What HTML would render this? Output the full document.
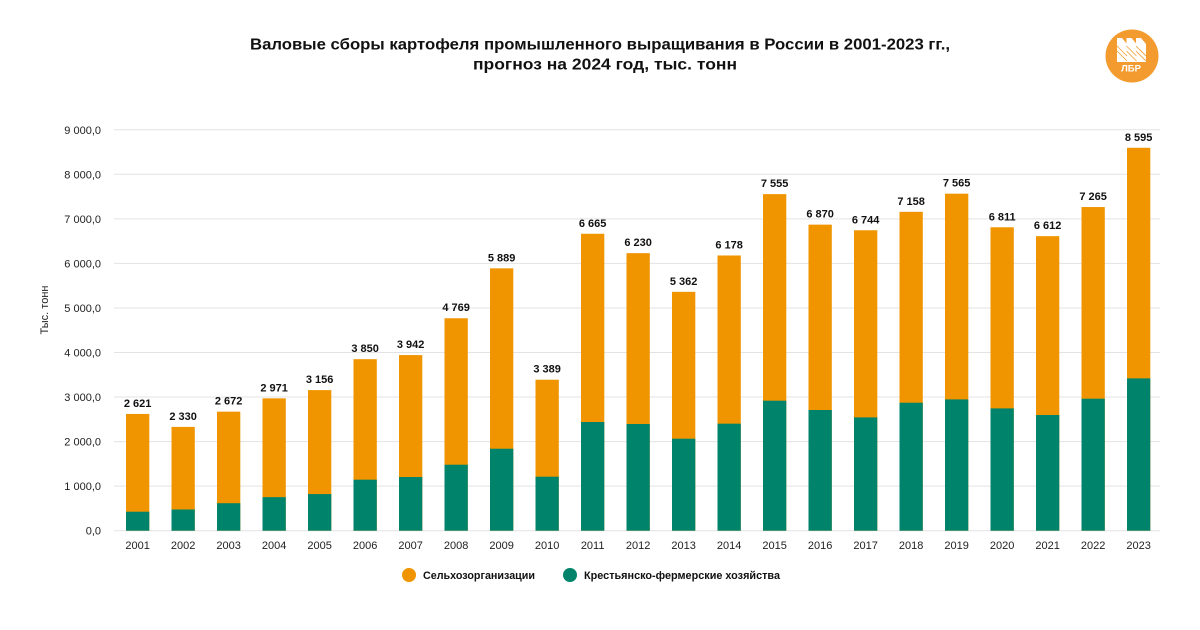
<!DOCTYPE html>
<html>
<head>
<meta charset="utf-8">
<style>
html,body{margin:0;padding:0;background:#fff;}
svg{display:block;}
text{font-family:"Liberation Sans","DejaVu Sans",sans-serif;}
</style>
</head>
<body>
<svg width="1200" height="630" viewBox="0 0 1200 630" xmlns="http://www.w3.org/2000/svg">
<rect width="1200" height="630" fill="#fff"/>
<!-- Title -->
<text x="600" y="49.3" text-anchor="middle" font-size="16" font-weight="bold" fill="#111" textLength="700" lengthAdjust="spacingAndGlyphs">Валовые сборы картофеля промышленного выращивания в России в 2001-2023 гг.,</text>
<text x="605" y="69.5" text-anchor="middle" font-size="16" font-weight="bold" fill="#111" textLength="264" lengthAdjust="spacingAndGlyphs">прогноз на 2024 год, тыс. тонн</text>

<!-- Logo -->
<circle cx="1132" cy="56" r="26.5" fill="#F39B2E"/>
<g fill="#fff">
<polygon points="1117,38 1122,38 1127,44 1127,62 1117,62"/>
<polygon points="1126.5,38 1131.5,38 1136.5,44 1136.5,62 1126.5,62"/>
<polygon points="1136,38 1141,38 1146,44 1146,62 1136,62"/>
</g>
<g stroke="#F39B2E" stroke-width="0.8">
<line x1="1117" y1="46" x2="1127" y2="56"/><line x1="1117" y1="51" x2="1127" y2="61"/>
<line x1="1126.5" y1="46" x2="1136.5" y2="56"/><line x1="1126.5" y1="51" x2="1136.5" y2="61"/>
<line x1="1136" y1="46" x2="1146" y2="56"/><line x1="1136" y1="51" x2="1146" y2="61"/>
</g>
<text x="1131" y="71.5" text-anchor="middle" font-size="9.5" font-weight="bold" fill="#fff" font-family="Liberation Serif, serif">ЛБР</text>

<!-- Gridlines -->
<g stroke="#e3e3e3" stroke-width="1">
<line x1="114" y1="530.7" x2="1160" y2="530.7"/>
<line x1="114" y1="486.15" x2="1160" y2="486.15"/>
<line x1="114" y1="441.6" x2="1160" y2="441.6"/>
<line x1="114" y1="397.05" x2="1160" y2="397.05"/>
<line x1="114" y1="352.5" x2="1160" y2="352.5"/>
<line x1="114" y1="307.95" x2="1160" y2="307.95"/>
<line x1="114" y1="263.4" x2="1160" y2="263.4"/>
<line x1="114" y1="218.85" x2="1160" y2="218.85"/>
<line x1="114" y1="174.3" x2="1160" y2="174.3"/>
<line x1="114" y1="129.75" x2="1160" y2="129.75"/>
</g>

<!-- Y labels -->
<g font-size="11" fill="#222" text-anchor="end">
<text x="101" y="534.7">0,0</text>
<text x="101" y="490.15">1 000,0</text>
<text x="101" y="445.6">2 000,0</text>
<text x="101" y="401.05">3 000,0</text>
<text x="101" y="356.5">4 000,0</text>
<text x="101" y="311.95">5 000,0</text>
<text x="101" y="267.4">6 000,0</text>
<text x="101" y="222.85">7 000,0</text>
<text x="101" y="178.3">8 000,0</text>
<text x="101" y="133.75">9 000,0</text>
</g>
<text x="0" y="0" transform="translate(48,310) rotate(-90)" text-anchor="middle" font-size="11" fill="#222">Тыс. тонн</text>

<!-- Orange bars (total) -->
<g fill="#F09500">
<rect x="126" y="413.93" width="23.3" height="116.77"/>
<rect x="171.5" y="426.9" width="23.3" height="103.8"/>
<rect x="217" y="411.66" width="23.3" height="119.04"/>
<rect x="262.5" y="398.34" width="23.3" height="132.36"/>
<rect x="308" y="390.1" width="23.3" height="140.6"/>
<rect x="353.5" y="359.18" width="23.3" height="171.52"/>
<rect x="399" y="355.08" width="23.3" height="175.62"/>
<rect x="444.5" y="318.24" width="23.3" height="212.46"/>
<rect x="490" y="268.34" width="23.3" height="262.36"/>
<rect x="535.5" y="379.72" width="23.3" height="150.98"/>
<rect x="581" y="233.77" width="23.3" height="296.93"/>
<rect x="626.5" y="253.15" width="23.3" height="277.55"/>
<rect x="672" y="291.82" width="23.3" height="238.88"/>
<rect x="717.5" y="255.47" width="23.3" height="275.23"/>
<rect x="763" y="194.12" width="23.3" height="336.58"/>
<rect x="808.5" y="224.64" width="23.3" height="306.06"/>
<rect x="854" y="230.25" width="23.3" height="300.45"/>
<rect x="899.5" y="211.81" width="23.3" height="318.89"/>
<rect x="945" y="193.68" width="23.3" height="337.02"/>
<rect x="990.5" y="227.27" width="23.3" height="303.43"/>
<rect x="1036" y="236.14" width="23.3" height="294.56"/>
<rect x="1081.5" y="207.04" width="23.3" height="323.66"/>
<rect x="1127" y="147.79" width="23.3" height="382.91"/>
</g>
<!-- Green bars -->
<g fill="#00836B">
<rect x="126" y="511.72" width="23.3" height="18.98"/>
<rect x="171.5" y="509.49" width="23.3" height="21.21"/>
<rect x="217" y="503.21" width="23.3" height="27.49"/>
<rect x="262.5" y="497.15" width="23.3" height="33.55"/>
<rect x="308" y="494.08" width="23.3" height="36.62"/>
<rect x="353.5" y="479.69" width="23.3" height="51.01"/>
<rect x="399" y="477.02" width="23.3" height="53.68"/>
<rect x="444.5" y="464.72" width="23.3" height="65.98"/>
<rect x="490" y="448.73" width="23.3" height="81.97"/>
<rect x="535.5" y="476.71" width="23.3" height="53.99"/>
<rect x="581" y="422.0" width="23.3" height="108.7"/>
<rect x="626.5" y="424.0" width="23.3" height="106.7"/>
<rect x="672" y="438.7" width="23.3" height="92.0"/>
<rect x="717.5" y="423.69" width="23.3" height="107.01"/>
<rect x="763" y="400.7" width="23.3" height="130.0"/>
<rect x="808.5" y="410.01" width="23.3" height="120.69"/>
<rect x="854" y="417.41" width="23.3" height="113.29"/>
<rect x="899.5" y="402.71" width="23.3" height="127.99"/>
<rect x="945" y="399.41" width="23.3" height="131.29"/>
<rect x="990.5" y="408.41" width="23.3" height="122.29"/>
<rect x="1036" y="415.0" width="23.3" height="115.7"/>
<rect x="1081.5" y="398.7" width="23.3" height="132.0"/>
<rect x="1127" y="378.38" width="23.3" height="152.32"/>
</g>

<!-- Value labels -->
<g font-size="11" font-weight="bold" fill="#111" text-anchor="middle">
<text x="137.65" y="406.93">2 621</text>
<text x="183.15" y="419.9">2 330</text>
<text x="228.65" y="404.66">2 672</text>
<text x="274.15" y="391.34">2 971</text>
<text x="319.65" y="383.1">3 156</text>
<text x="365.15" y="352.18">3 850</text>
<text x="410.65" y="348.08">3 942</text>
<text x="456.15" y="311.24">4 769</text>
<text x="501.65" y="261.34">5 889</text>
<text x="547.15" y="372.72">3 389</text>
<text x="592.65" y="226.77">6 665</text>
<text x="638.15" y="246.15">6 230</text>
<text x="683.65" y="284.82">5 362</text>
<text x="729.15" y="248.47">6 178</text>
<text x="774.65" y="187.12">7 555</text>
<text x="820.15" y="217.64">6 870</text>
<text x="865.65" y="223.25">6 744</text>
<text x="911.15" y="204.81">7 158</text>
<text x="956.65" y="186.68">7 565</text>
<text x="1002.15" y="220.27">6 811</text>
<text x="1047.65" y="229.14">6 612</text>
<text x="1093.15" y="200.04">7 265</text>
<text x="1138.65" y="140.79">8 595</text>
</g>

<!-- Year labels -->
<g font-size="11" fill="#222" text-anchor="middle">
<text x="137.65" y="549">2001</text>
<text x="183.15" y="549">2002</text>
<text x="228.65" y="549">2003</text>
<text x="274.15" y="549">2004</text>
<text x="319.65" y="549">2005</text>
<text x="365.15" y="549">2006</text>
<text x="410.65" y="549">2007</text>
<text x="456.15" y="549">2008</text>
<text x="501.65" y="549">2009</text>
<text x="547.15" y="549">2010</text>
<text x="592.65" y="549">2011</text>
<text x="638.15" y="549">2012</text>
<text x="683.65" y="549">2013</text>
<text x="729.15" y="549">2014</text>
<text x="774.65" y="549">2015</text>
<text x="820.15" y="549">2016</text>
<text x="865.65" y="549">2017</text>
<text x="911.15" y="549">2018</text>
<text x="956.65" y="549">2019</text>
<text x="1002.15" y="549">2020</text>
<text x="1047.65" y="549">2021</text>
<text x="1093.15" y="549">2022</text>
<text x="1138.65" y="549">2023</text>
</g>

<!-- Legend -->
<circle cx="409" cy="575" r="7" fill="#F09500"/>
<text x="423" y="579" font-size="11" font-weight="bold" fill="#111" textLength="112" lengthAdjust="spacingAndGlyphs">Сельхозорганизации</text>
<circle cx="570" cy="575" r="7" fill="#00836B"/>
<text x="584" y="579" font-size="11" font-weight="bold" fill="#111" textLength="196" lengthAdjust="spacingAndGlyphs">Крестьянско-фермерские хозяйства</text>
</svg>
</body>
</html>
